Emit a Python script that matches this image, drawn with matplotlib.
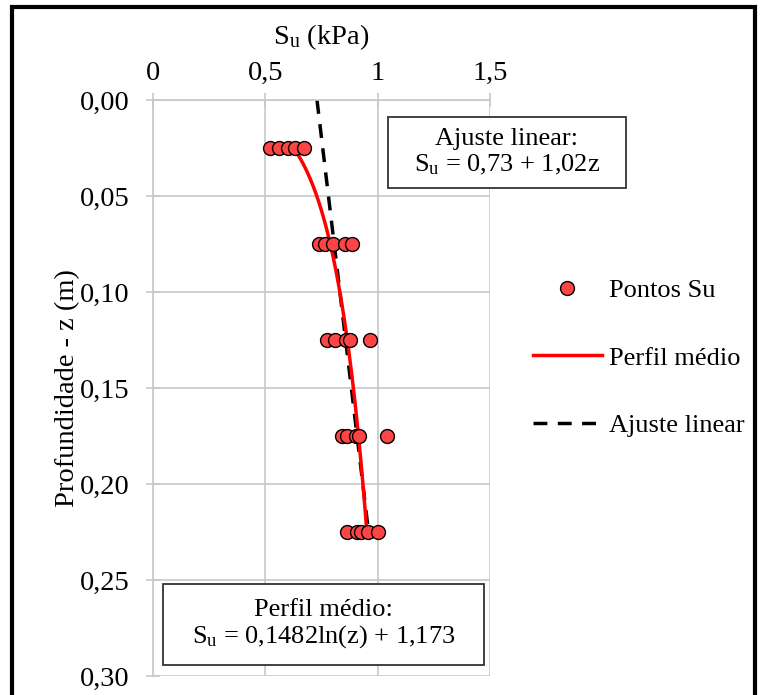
import numpy as np
import matplotlib
matplotlib.use("Agg")
import matplotlib.pyplot as plt
from matplotlib.patches import Rectangle

plt.rcParams['font.family'] = ['Liberation Serif', 'DejaVu Serif']
plt.rcParams['mathtext.fontset'] = 'custom'
plt.rcParams['mathtext.rm'] = 'Liberation Serif'
plt.rcParams['mathtext.it'] = 'Liberation Serif:italic'

# dados medidos (profundidade z em m, Su em kPa)
z_pts = [0.025]*5 + [0.075]*5 + [0.125]*5 + [0.175]*5 + [0.225]*5
su_pts = [0.52, 0.56, 0.60, 0.63, 0.67,
          0.74, 0.765, 0.80, 0.855, 0.885,
          0.775, 0.81, 0.86, 0.875, 0.965,
          0.84, 0.865, 0.905, 0.915, 1.04,
          0.865, 0.91, 0.925, 0.955, 1.00]

# ajustes
a_log, b_log = 0.1482, 1.173
a_lin, b_lin = 0.73, 1.02
z_curve = np.linspace(0.025, 0.225, 100)
su_curve = a_log*np.log(z_curve) + b_log
z_lin = np.array([0.0, 0.225])
su_lin = a_lin + b_lin*z_lin

gray = '#c8c8c8'
fig = plt.figure(figsize=(7.6, 6.95), dpi=100)
ax = fig.add_axes([0.2013, 0.0273, 0.4434, 0.8288])

ax.plot(su_curve, z_curve, color='red', lw=2.5, label='Perfil médio', zorder=3)
ax.plot(su_lin, z_lin, color='black', lw=2.5, ls=(0, (4, 3)), label='Ajuste linear', zorder=2)
ax.plot(su_pts, z_pts, 'o', ms=10, mfc='#ff4444', mec='black', mew=1.0,
        label='Pontos Su', zorder=4)

ax.set_xlim(0, 1.5)
ax.set_ylim(0.30, 0.0)
ax.set_xticks([0, 0.5, 1, 1.5])
ax.set_xticklabels(['0', '0,5', '1', '1,5'])
yt = np.arange(0, 0.31, 0.05)
ax.set_yticks(yt)
ax.set_yticklabels([f"{v:.2f}".replace('.', ',') for v in yt])
ax.xaxis.tick_top()
ax.xaxis.set_label_position('top')
ax.tick_params(axis='both', direction='inout', length=10, width=1.2, color=gray,
               labelsize=20.5)
ax.tick_params(axis='x', pad=5)
ax.tick_params(axis='y', pad=12)
ax.grid(color=gray, lw=1.2)
ax.set_axisbelow(True)
for s in ['right', 'bottom']:
    ax.spines[s].set_visible(False)
for s in ['top', 'left']:
    ax.spines[s].set_color(gray)
    ax.spines[s].set_linewidth(1.2)

ax.set_xlabel(r'S$_\mathrm{u}$ (kPa)', fontsize=20.5, labelpad=12)
ax.set_ylabel('Profundidade - z (m)', fontsize=20.5, labelpad=0)

# caixas de texto com as equações
fig.patches.append(Rectangle((0.5105, 0.7295), 0.3132, 0.1022, transform=fig.transFigure,
                             fc='white', ec='#333333', lw=1.3, zorder=5))
fig.text(0.667, 0.781, 'Ajuste linear:\n' + r'S$_\mathrm{u}$ = 0,73 + 1,02z',
         ha='center', va='center', fontsize=19, linespacing=1.15, zorder=6)
fig.patches.append(Rectangle((0.2145, 0.0432), 0.4223, 0.1165, transform=fig.transFigure,
                             fc='white', ec='#333333', lw=1.3, zorder=5))
fig.text(0.4257, 0.1014, 'Perfil médio:\n' + r'S$_\mathrm{u}$ = 0,1482ln(z) + 1,173',
         ha='center', va='center', fontsize=19, linespacing=1.15, zorder=6)

h, l = ax.get_legend_handles_labels()
order = [2, 0, 1]
fig.legend([h[i] for i in order], [l[i] for i in order], loc='center left',
           bbox_to_anchor=(0.670, 0.485), frameon=False, fontsize=19,
           labelspacing=1.68, handlelength=2.6, handletextpad=0.27)

fig.patches.append(Rectangle((0.016, -0.05), 0.978, 1.04, transform=fig.transFigure,
                             fill=False, ec='black', lw=3))

fig.savefig('out.png', dpi=100)
